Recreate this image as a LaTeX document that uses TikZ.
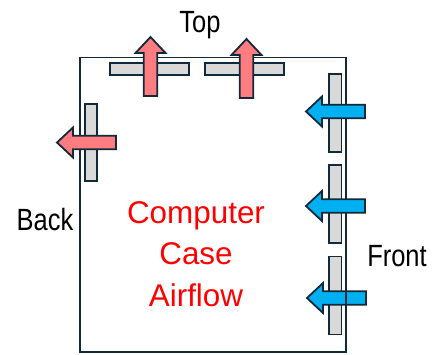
\documentclass[tikz,border=0pt]{standalone}
\usepackage{fontspec}
\setmainfont{Liberation Sans}
\newfontfamily\labelfont[FakeStretch=0.83]{Liberation Sans}
\usepackage{tikz}
\usetikzlibrary{positioning}
\usepackage{xcolor}
\definecolor{edge}{HTML}{10293B}
\definecolor{hotair}{HTML}{FF7C80}
\definecolor{coolair}{HTML}{00B0F0}
\definecolor{fangray}{HTML}{D9D9D9}

\tikzset{
pics/flow/.style={code={
\draw[pic actions] (0,-6.75) -- (43,-6.75) -- (43,-15) -- (59,0) -- (43,15) -- (43,6.75) -- (0,6.75) -- cycle;
}}
}

\begin{document}
\begin{tikzpicture}[
x=1pt, y=-1pt,
case/.style={draw=edge, line width=1.8pt},
fan/.style={draw=edge, fill=fangray, line width=1.8pt, inner sep=0pt},
hot/.style={draw=edge, fill=hotair, line width=1.8pt, line join=miter},
cool/.style={draw=edge, fill=coolair, line width=1.8pt, line join=miter},
side/.style={font=\labelfont\fontsize{30.7}{36}\selectfont, inner sep=0pt, anchor=base},
title/.style={font=\fontsize{31.4}{42}\selectfont, text=red, inner sep=0pt, anchor=base}
]
\useasboundingbox (0,0) rectangle (438,354);

% case outline
\draw[case] (80,57.5) rectangle (345.7,352);

% fans
\node[fan, minimum width=79, minimum height=12.4] (topfanA) at (149.5,69) {};
\node[fan, minimum width=79, minimum height=12.4] (topfanB) at (244.5,69) {};
\node[fan, minimum width=12.4, minimum height=77.5] (backfan) at (91,142.5) {};
\node[fan, minimum width=12.8, minimum height=78] (frontfanA) at (335,112.7) {};
\node[fan, minimum width=12.8, minimum height=78] (frontfanB) at (335,204) {};
\node[fan, minimum width=12.8, minimum height=78] (frontfanC) at (335,295.4) {};

% airflow
\pic[hot, rotate=90] at (150.5,96) {flow};
\pic[hot, rotate=90] at (246.5,98) {flow};
\pic[hot, rotate=180] at (116,142.5) {flow};
\pic[cool, rotate=180] at (365,111.5) {flow};
\pic[cool, rotate=180] at (365,206) {flow};
\pic[cool, rotate=180] at (366,298) {flow};
\draw[case] (345.7,285) -- (345.7,312);

% labels
\node[side] (toplabel) at (200,32) {Top};
\node[side] (backlabel) at (45,230) {Back};
\node[side] (frontlabel) at (397,266.7) {Front};
\node[title] (titleA) at (196,223) {Computer};
\node[title] (titleB) at (196,264.5) {Case};
\node[title] (titleC) at (196,306.5) {Airflow};
\end{tikzpicture}
\end{document}
